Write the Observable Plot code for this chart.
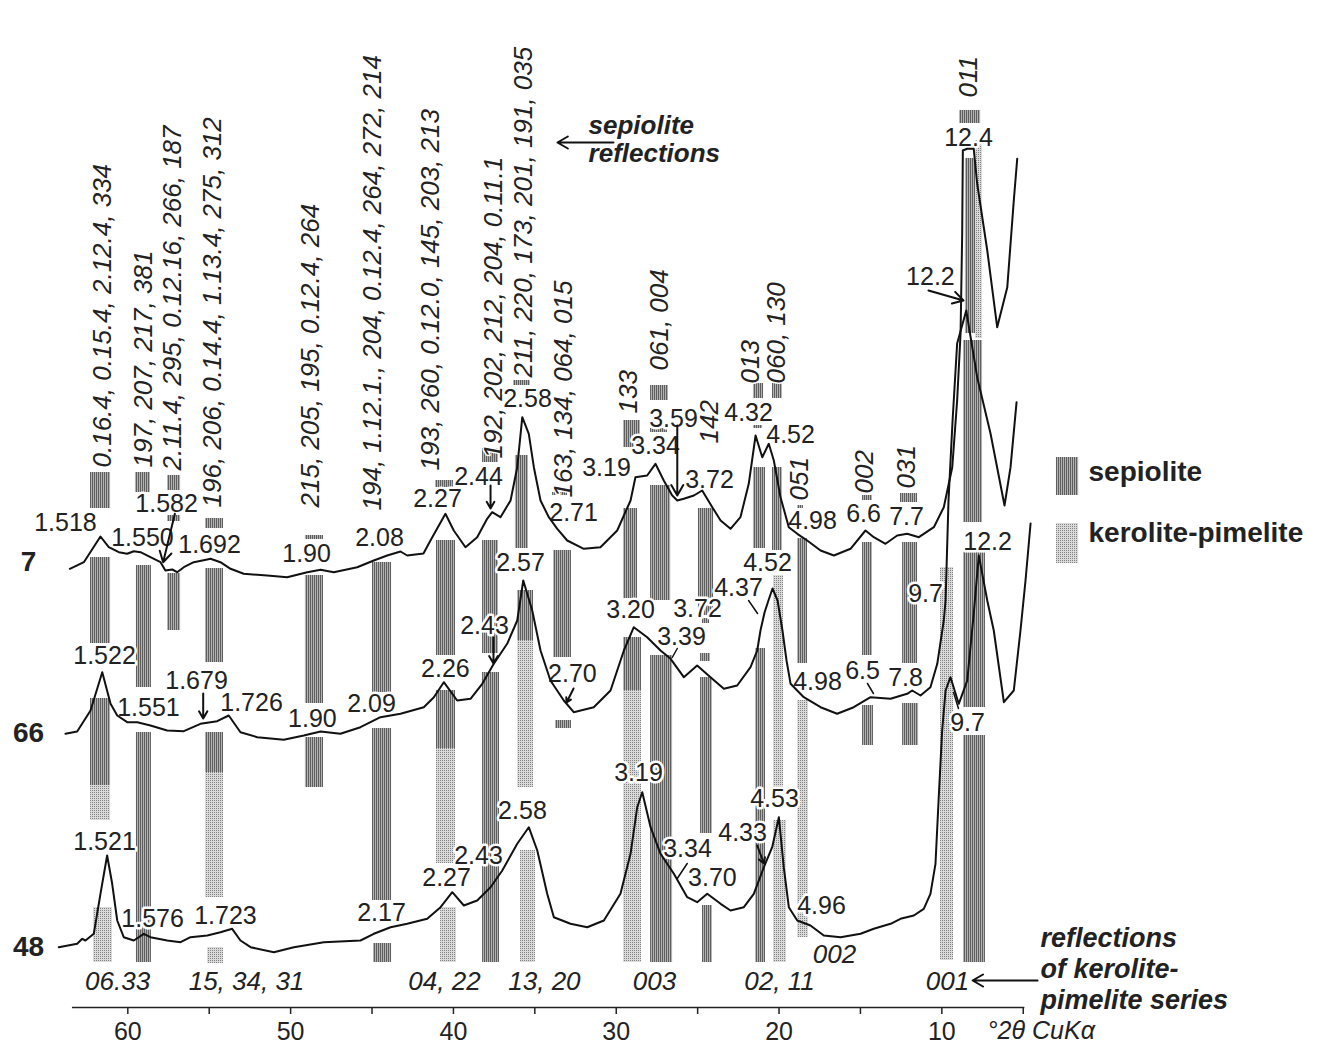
<!DOCTYPE html>
<html><head><meta charset="utf-8">
<script src="https://cdn.jsdelivr.net/npm/d3@7"></script>
<script src="https://cdn.jsdelivr.net/npm/@observablehq/plot@0.6"></script>
<style>
html,body{margin:0;padding:0;background:#fff;}
#chart{position:relative;width:1321px;height:1047px;overflow:hidden;}
</style></head><body><div id="chart"></div>
<script>
// ---- Diffractogram traces: [°2θ, relative intensity] ----
const sample7 = [[63.56,0.87],[62.70,1.53],[61.68,4.10],[61.17,3.03],[60.55,2.53],[60.04,2.37],[59.63,2.63],[59.22,2.53],[58.61,2.03],[57.99,1.53],[57.69,0.70],[57.27,0.80],[56.97,0.53],[56.56,1.03],[55.95,1.53],[55.12,1.80],[54.92,1.87],[54.31,1.53],[53.69,0.87],[52.88,0.37],[51.44,0.20],[50.21,0.03],[48.98,0.53],[48.16,0.77],[47.35,0.53],[45.91,1.03],[44.89,1.70],[44.07,2.20],[43.25,2.60],[42.84,2.20],[41.84,2.40],[41.41,3.70],[40.49,6.37],[39.98,4.70],[39.26,3.03],[38.54,4.03],[37.93,5.87],[37.62,6.53],[37.11,6.03],[36.49,7.70],[36.08,11.03],[35.77,16.03],[35.37,14.37],[35.06,11.03],[34.65,7.70],[34.14,6.03],[33.62,4.87],[33.01,3.70],[31.99,2.87],[30.97,3.03],[29.94,4.70],[29.12,7.70],[28.82,10.03],[28.10,10.20],[27.59,11.37],[27.08,9.70],[26.56,8.20],[26.25,7.70],[25.85,7.87],[25.23,8.20],[24.72,8.70],[24.10,7.03],[23.59,5.70],[22.98,4.87],[22.37,6.03],[21.86,9.37],[21.44,14.20],[21.03,12.03],[20.63,13.37],[20.32,11.70],[19.91,8.03],[19.40,5.03],[18.88,4.37],[18.27,3.70],[17.45,2.70],[16.63,2.20],[15.61,2.87],[14.69,4.70],[14.18,4.03],[13.46,3.37],[12.74,4.20],[12.13,4.37],[11.41,4.03],[10.49,5.03],[9.88,7.03],[9.36,11.03],[9.06,17.70],[8.85,24.40],[8.75,34.40],[8.71,42.70],[8.44,42.87],[8.04,42.87],[7.83,39.40],[7.21,32.70],[6.60,25.03],[5.98,29.03],[5.58,37.70],[5.37,41.87]];
const sample66 = [[63.83,1.37],[63.11,1.60],[62.29,3.70],[61.57,7.53],[61.06,4.37],[60.65,3.20],[60.04,2.53],[59.42,2.53],[58.61,2.20],[57.58,1.70],[56.56,1.63],[55.54,2.37],[54.51,2.63],[53.80,3.20],[53.08,1.53],[52.05,1.03],[50.42,0.77],[49.19,1.20],[48.16,1.60],[46.94,1.37],[45.71,2.03],[44.48,3.03],[43.25,3.37],[41.82,4.03],[41.20,5.03],[40.59,6.53],[39.77,4.70],[38.95,4.87],[38.23,6.37],[37.52,8.37],[36.70,10.37],[36.08,12.70],[35.71,16.70],[35.16,13.70],[34.65,9.70],[34.04,6.70],[33.22,4.70],[32.61,3.53],[31.38,4.03],[30.35,5.70],[29.53,9.70],[28.92,12.03],[28.10,11.03],[27.28,9.70],[26.66,8.87],[25.85,7.03],[25.03,8.20],[24.21,7.03],[23.39,5.87],[22.57,6.20],[21.75,8.03],[21.34,9.70],[21.14,11.70],[20.89,13.50],[20.65,14.70],[20.40,15.90],[20.09,14.70],[19.79,11.70],[19.54,8.70],[19.29,6.37],[18.48,5.03],[17.45,4.03],[16.43,3.37],[15.41,4.03],[14.38,5.03],[13.15,4.87],[12.13,5.37],[11.82,5.70],[11.31,5.20],[10.70,6.03],[10.28,8.37],[9.88,12.70],[9.77,14.70],[9.59,24.70],[9.34,32.70],[9.06,40.40],[8.50,43.70],[7.83,37.03],[7.01,31.40],[6.15,24.20],[5.78,28.03],[5.41,34.53]];
const sample48 = [[64.24,1.03],[63.11,1.37],[62.80,1.87],[62.60,1.70],[62.09,2.37],[61.68,6.37],[61.27,10.20],[60.96,7.37],[60.65,3.70],[60.25,2.03],[59.63,1.70],[59.02,2.37],[58.61,2.03],[57.58,1.70],[56.76,1.53],[56.15,2.03],[55.12,2.20],[54.31,2.53],[53.59,2.87],[53.08,1.70],[52.46,1.03],[51.03,0.53],[49.80,1.03],[47.96,1.53],[45.71,1.70],[44.89,2.37],[43.86,3.03],[42.84,3.37],[41.61,3.87],[40.79,5.03],[40.07,6.53],[39.36,5.20],[38.54,5.70],[37.72,7.03],[37.00,8.70],[36.08,11.37],[35.37,13.03],[34.85,10.70],[34.24,6.37],[33.83,4.03],[32.81,3.37],[31.78,3.03],[30.76,3.70],[29.74,6.37],[29.12,10.37],[28.71,15.03],[28.40,16.53],[27.89,13.03],[27.28,10.37],[26.46,8.37],[25.64,6.03],[25.03,5.53],[24.41,6.37],[23.59,5.37],[22.98,4.70],[22.16,5.03],[21.55,6.37],[20.93,9.03],[20.42,11.03],[20.01,14.03],[19.71,9.03],[19.40,5.03],[18.88,3.70],[18.07,3.20],[17.25,2.20],[16.22,2.03],[14.99,2.37],[14.18,2.87],[13.15,3.37],[12.54,3.87],[11.72,4.20],[11.11,4.87],[10.70,6.37],[10.39,9.37],[10.19,16.03],[9.98,22.70],[9.77,26.70],[9.47,28.03],[8.96,25.37],[8.44,27.70],[8.04,34.40],[7.73,40.20],[7.21,35.70],[6.81,32.70],[6.19,25.53],[5.58,26.70],[5.17,32.70],[4.86,37.70],[4.55,43.40]];
const offsets = {"7": 43, "66": 26, "48": 5};
const sampleNames = [["7", 66.10, 44.5], ["66", 66.10, 27.4], ["48", 66.10, 6.0]];

// ---- Reference reflection bars: [2θ from, 2θ to, low, high] ----
const sepioliteBars = [[62.29,61.06,49.9,53.5],[62.29,61.06,36.4,45.0],[62.29,61.06,22.2,30.9],[59.53,58.61,51.5,53.5],[59.47,58.55,32.0,44.2],[59.47,58.55,4.5,27.5],[57.56,56.76,51.7,53.2],[57.56,56.76,48.6,49.2],[57.56,56.76,37.7,43.4],[55.23,54.12,47.9,48.9],[55.23,54.12,34.5,43.9],[55.23,54.12,23.5,27.5],[49.09,47.98,46.8,47.2],[49.09,47.98,30.4,43.2],[49.09,47.98,22.0,27.0],[44.97,43.80,31.5,44.5],[44.97,43.80,10.7,27.9],[44.91,43.80,4.5,6.4],[41.10,39.99,52.0,52.7],[41.04,39.87,35.2,46.7],[41.04,39.87,25.9,31.7],[38.21,37.23,54.5,55.9],[38.21,37.23,35.4,46.7],[38.21,37.17,4.5,33.5],[36.31,35.27,62.2,62.7],[36.19,35.39,45.9,55.2],[36.06,35.08,36.7,41.7],[33.91,32.99,51.2,51.5],[33.85,32.75,35.0,45.7],[33.73,32.75,27.9,28.7],[29.55,28.51,56.0,58.7],[29.55,28.69,40.9,49.9],[29.55,28.45,31.7,37.0],[27.89,26.79,60.7,62.2],[27.89,26.85,57.5,57.9],[27.89,26.66,40.7,52.2],[27.89,26.54,4.5,35.2],[24.70,24.27,38.4,38.9],[24.95,24.02,39.2,49.9],[24.82,24.21,34.6,35.4],[24.82,24.09,17.4,33.0],[24.70,24.09,4.5,10.2],[21.57,20.95,60.9,62.4],[21.57,21.01,57.9,58.2],[21.57,20.83,45.9,54.0],[21.44,20.83,4.5,35.9],[20.40,19.79,60.9,62.4],[20.40,19.79,45.7,54.0],[18.86,18.50,49.9,50.2],[18.86,18.25,34.4,46.9],[14.87,14.26,50.7,51.2],[14.87,14.26,35.2,46.5],[14.87,14.20,26.2,30.2],[12.54,11.49,50.5,51.4],[12.41,11.49,34.4,46.5],[12.41,11.43,26.2,30.4],[8.91,7.62,88.4,89.7],[8.55,7.93,67.4,84.9],[8.67,7.50,48.5,66.7],[8.67,7.32,30.0,46.0],[8.67,7.32,4.5,27.2]];
const keroliteBars = [[62.29,61.06,18.7,22.2],[62.11,60.94,4.5,10.0],[55.23,54.12,11.0,23.5],[55.10,54.12,4.4,6.0],[41.04,39.87,14.4,25.9],[40.79,39.81,4.5,10.0],[36.06,35.08,22.0,36.7],[35.88,34.96,4.5,15.7],[29.55,28.45,4.5,31.7],[20.34,19.72,21.7,43.2],[20.34,19.54,4.5,18.7],[18.86,18.19,7.0,30.7],[10.08,9.28,4.7,44.0],[7.93,7.50,66.9,86.7]];

// ---- d-spacing labels: [2θ, level, text] ----
const dLabels7 = [[63.83,48.5,"1.518"],[59.10,47.0,"1.550"],[57.62,50.4,"1.582"],[54.98,46.3,"1.692"],[49.02,45.4,"1.90"],[44.54,47.0,"2.08"],[40.98,50.9,"2.27"],[38.46,53.1,"2.44"],[35.45,60.9,"2.58"],[32.62,49.5,"2.71"],[30.60,54.0,"3.19"],[27.59,56.2,"3.34"],[26.48,58.9,"3.59"],[24.27,52.8,"3.72"],[21.87,59.5,"4.32"],[19.29,57.3,"4.52"],[17.94,48.7,"4.98"],[14.81,49.4,"6.6"],[12.17,49.1,"7.7"],[8.36,87.0,"12.4"],[10.70,73.1,"12.2"]];
const dLabels66 = [[61.43,35.2,"1.522"],[58.73,30.0,"1.551"],[55.78,32.7,"1.679"],[52.40,30.5,"1.726"],[48.66,28.9,"1.90"],[45.03,30.4,"2.09"],[40.49,33.9,"2.26"],[38.09,38.2,"2.43"],[35.88,44.5,"2.57"],[32.69,33.4,"2.70"],[29.12,39.8,"3.20"],[25.01,39.9,"3.72"],[25.99,37.1,"3.39"],[22.49,42.0,"4.37"],[20.71,44.5,"4.52"],[17.64,32.6,"4.98"],[14.87,33.7,"6.5"],[12.23,33.0,"7.8"],[11.00,41.4,"9.7"],[7.19,46.6,"12.2"]];
const dLabels48 = [[61.43,16.6,"1.521"],[58.48,8.9,"1.576"],[54.00,9.2,"1.723"],[44.42,9.5,"2.17"],[40.42,13.0,"2.27"],[38.46,15.2,"2.43"],[35.76,19.7,"2.58"],[28.63,23.5,"3.19"],[25.62,15.9,"3.34"],[24.09,13.0,"3.70"],[22.24,17.5,"4.33"],[20.28,20.9,"4.53"],[17.39,10.2,"4.96"],[8.42,28.5,"9.7"]];

// ---- sepiolite hkl (rotated) and kerolite-pimelite hk labels ----
const sepioliteHkl = [[61.55,54.0,"0.16.4, 0.15.4, 2.12.4, 334"],[59.04,54.0,"197, 207, 217, 381"],[57.25,53.7,"2.11.4, 295, 0.12.16, 266, 187"],[54.80,50.0,"196, 206, 0.14.4, 1.13.4, 275, 312"],[48.78,50.0,"215, 205, 195, 0.12.4, 264"],[44.97,49.7,"194, 1.12.1., 204, 0.12.4, 264, 272, 214"],[41.41,53.7,"193, 260, 0.12.0, 145, 203, 213"],[37.54,54.9,"192, 202, 212, 204, 0.11.1"],[35.70,63.0,"211, 220, 173, 201, 191, 035"],[33.24,51.0,"163, 134, 064, 015"],[29.25,59.4,"133"],[27.34,63.7,"061, 004"],[24.27,56.4,"142"],[21.75,62.4,"013"],[20.15,62.4,"060, 130"],[18.74,50.7,"051"],[14.75,51.4,"002"],[12.17,51.9,"031"],[8.36,91.0,"011"]];
const keroliteHk = [[60.63,2.6,"06.33"],[52.71,2.6,"15, 34, 31"],[40.55,2.6,"04, 22"],[34.41,2.6,"13, 20"],[27.65,2.6,"003"],[19.97,2.6,"02, 11"],[9.65,2.6,"001"],[16.59,5.3,"002"]];

// ---- pointers: [2θ1, level1, 2θ2, level2] ----
const pointerArrows = [[57.11,49.37,57.83,44.53],[37.72,52.2,37.72,49.9],[26.25,58.2,26.25,51.2],[10.82,71.7,8.67,70.7],[55.37,31.4,55.37,28.9],[37.54,37.0,37.54,34.4],[21.34,16.2,20.93,14.4],[32.62,31.9,33.05,30.5],[30.17,86.5,33.61,86.5],[4.12,2.7,8.11,2.7]];
const pointerTicks = [[26.25,35.9,26.56,35.0],[21.87,40.7,21.32,39.4],[14.57,32.4,14.20,31.4],[9.28,31.5,8.98,29.9],[25.64,14.4,26.25,12.9]];

// ---- annotations & legend ----
const topNote = [[31.70,88.2,"sepiolite"],[31.70,85.4,"reflections"]];
const bottomNote = [[3.94,6.9,"reflections"],[3.94,3.8,"of kerolite-"],[3.94,0.7,"pimelite series"]];
const legendSwatches = [[2.96,1.60,51.2,55.0,"sepiolite"],[2.96,1.60,44.4,48.4,"kerolite-pimelite"]];
const legendLabels = [[0.99,53.5,"sepiolite"],[0.99,47.4,"kerolite-pimelite"]];
const xTickLabels = [60,50,40,30,20,10];
const xMinorTicks = [55,45,35,25,15,5];
const axisRange = [63.4, 4.9];
const axisTitle = [[7.19,-2.3,"°2θ CuKα"]];

const FONT = "'Liberation Sans', Arial, Helvetica, sans-serif";
const rowsOf = (arr, s) => arr.map(([t, i]) => ({sample: s, t, y: i + offsets[s]}));
const traces = [...rowsOf(sample7, "7"), ...rowsOf(sample66, "66"), ...rowsOf(sample48, "48")];
const barRows = a => a.map(([x1, x2, y1, y2]) => ({x1, x2, y1, y2}));
const txt = a => a.map(([x, y, t]) => ({x, y, t}));
const seg = a => a.map(([x1, y1, x2, y2]) => ({x1, y1, x2, y2}));
const dLabels = [...txt(dLabels7), ...txt(dLabels66), ...txt(dLabels48)];
const halo = {stroke: "white", strokeWidth: 5, paintOrder: "stroke"};

const chart = Plot.plot({
  width: 1321, height: 1047,
  marginTop: 0, marginRight: 0, marginBottom: 40, marginLeft: 0,
  x: {domain: [67.82, -13.32], axis: null},
  y: {domain: [0, 100.7], axis: null},
  style: {fontFamily: FONT, background: "white", color: "#111", overflow: "visible"},
  marks: [
    Plot.rect(barRows(sepioliteBars), {x1: "x1", x2: "x2", y1: "y1", y2: "y2", fill: "url(#sepPat)"}),
    Plot.rect(barRows(keroliteBars), {x1: "x1", x2: "x2", y1: "y1", y2: "y2", fill: "url(#kerPat)"}),
    Plot.text(txt(sepioliteHkl), {x: "x", y: "y", text: "t", rotate: -90, textAnchor: "start", lineAnchor: "middle", fontSize: 26, fontStyle: "italic", fill: "#222", ...halo, strokeWidth: 3}),
    Plot.text(dLabels, {x: "x", y: "y", text: "t", textAnchor: "middle", lineAnchor: "middle", fontSize: 25, fill: "#222", ...halo}),
    Plot.text(txt(keroliteHk), {x: "x", y: "y", text: "t", textAnchor: "middle", lineAnchor: "middle", fontSize: 26, fontStyle: "italic", fill: "#222", ...halo, strokeWidth: 3}),
    Plot.line(traces, {x: "t", y: "y", z: "sample", stroke: "#111", strokeWidth: 2, strokeLinejoin: "round"}),
    Plot.arrow(seg(pointerArrows), {x1: "x1", y1: "y1", x2: "x2", y2: "y2", stroke: "#111", strokeWidth: 2, headLength: 9}),
    Plot.arrow(seg(pointerTicks), {x1: "x1", y1: "y1", x2: "x2", y2: "y2", stroke: "#111", strokeWidth: 1.5, headLength: 0}),
    Plot.text(sampleNames, {x: d => d[1], y: d => d[2], text: d => d[0], textAnchor: "middle", lineAnchor: "middle", fontSize: 28, fontWeight: "bold", fill: "#222"}),
    Plot.text(txt(topNote), {x: "x", y: "y", text: "t", textAnchor: "start", lineAnchor: "middle", fontSize: 26, fontWeight: "bold", fontStyle: "italic", fill: "#222"}),
    Plot.text(txt(bottomNote), {x: "x", y: "y", text: "t", textAnchor: "start", lineAnchor: "middle", fontSize: 27, fontWeight: "bold", fontStyle: "italic", fill: "#222"}),
    Plot.rect(legendSwatches, {x1: d => d[0], x2: d => d[1], y1: d => d[2], y2: d => d[3], fill: d => d[4] === "sepiolite" ? "url(#sepPat)" : "url(#kerPat)"}),
    Plot.text(txt(legendLabels), {x: "x", y: "y", text: "t", textAnchor: "start", lineAnchor: "middle", fontSize: 28, fontWeight: "bold", fill: "#222"}),
    Plot.ruleY([0], {x1: axisRange[0], x2: axisRange[1], stroke: "#222", strokeWidth: 1.5}),
    Plot.ruleX([...xTickLabels, ...xMinorTicks], {x: d => d, y1: 0, y2: -0.7, stroke: "#222", strokeWidth: 1.5}),
    Plot.text(xTickLabels, {x: d => d, y: -2.4, text: d => String(d), textAnchor: "middle", lineAnchor: "middle", fontSize: 25, fill: "#222"}),
    Plot.text(txt(axisTitle), {x: "x", y: "y", text: "t", textAnchor: "start", lineAnchor: "middle", fontSize: 25, fontStyle: "italic", fill: "#222"})
  ]
});

// hatch / stipple patterns used by the bars
const svg = d3.select(chart);
const defs = svg.insert("defs", ":first-child");
const sp = defs.append("pattern").attr("id", "sepPat").attr("patternUnits", "userSpaceOnUse").attr("width", 2).attr("height", 2);
sp.append("rect").attr("width", 2).attr("height", 2).attr("fill", "#b2b2b2");
sp.append("rect").attr("width", 1).attr("height", 2).attr("fill", "#5e5e5e");
const kp = defs.append("pattern").attr("id", "kerPat").attr("patternUnits", "userSpaceOnUse").attr("width", 2).attr("height", 2);
kp.append("rect").attr("width", 2).attr("height", 2).attr("fill", "#dadada");
kp.append("rect").attr("width", 1).attr("height", 1).attr("fill", "#828282");

document.getElementById("chart").appendChild(chart);
</script></body></html>
